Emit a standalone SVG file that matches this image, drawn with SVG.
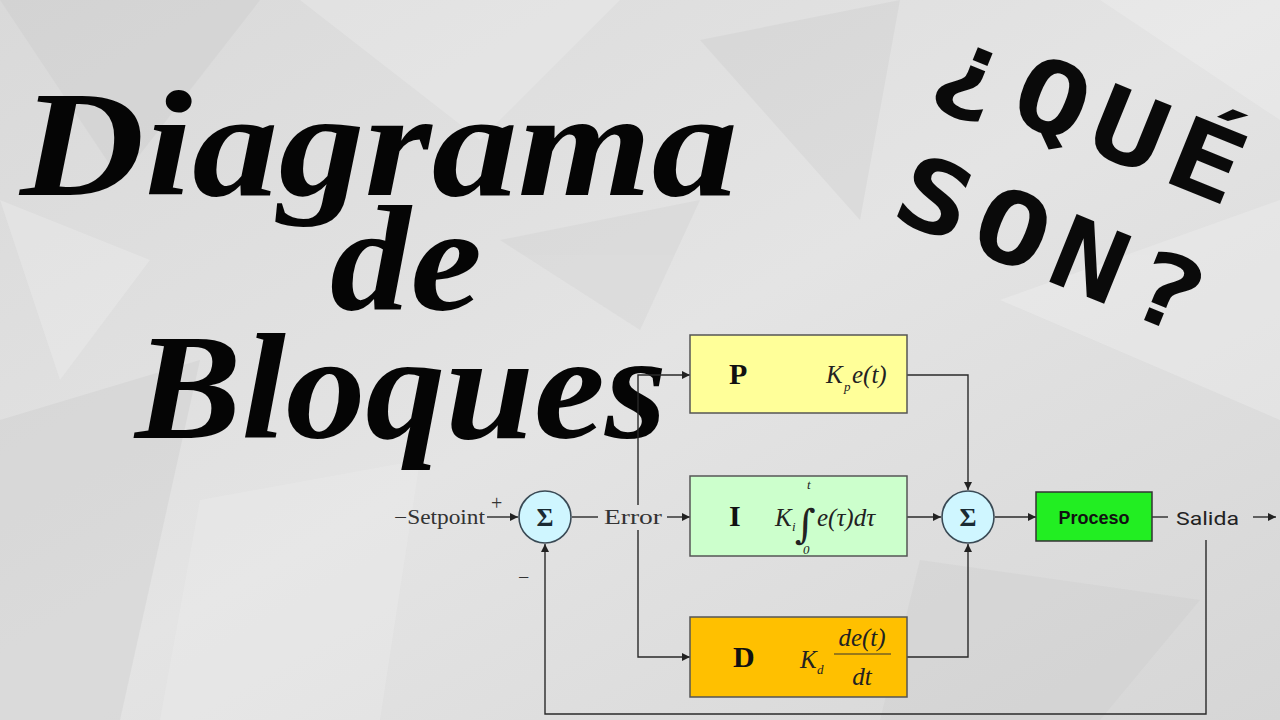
<svg xmlns="http://www.w3.org/2000/svg" width="1280" height="720" viewBox="0 0 1280 720">
<defs>
<marker id="arr" viewBox="0 0 10 10" refX="10" refY="5" markerWidth="8" markerHeight="8" orient="auto" markerUnits="userSpaceOnUse"><path d="M0,0 L10,5 L0,10 z" fill="#222"/></marker>
<linearGradient id="bg" x1="0" y1="0" x2="1" y2="1"><stop offset="0" stop-color="#d9d9d9"/><stop offset="0.5" stop-color="#e4e4e4"/><stop offset="1" stop-color="#d6d6d6"/></linearGradient>
<style>
.title{font-family:"Liberation Serif",serif;font-weight:bold;font-style:italic;fill:#050505}
.q{font-family:"DejaVu Sans Mono","Liberation Mono",monospace;font-weight:bold;font-size:100px;letter-spacing:8px;fill:#0a0a0a}
.w{stroke:#2a2a2a;stroke-width:1.4;fill:none}
.blk{stroke:#555;stroke-width:1.5}
.lbl{font-family:"Liberation Serif",serif;font-size:20px;fill:#333}
.bl{font-family:"Liberation Serif",serif;font-weight:bold;font-size:30px;fill:#111}
.m{font-family:"Liberation Serif",serif;font-style:italic;font-size:25px;fill:#222}
.s{font-family:"Liberation Serif",serif;font-style:italic;font-size:13px;fill:#222}
.sum{fill:#cff6ff;stroke:#3a4a55;stroke-width:1.6}
.sig{font-family:"Liberation Serif",serif;font-weight:bold;font-size:26px;fill:#1a2a33}
.sans{font-family:Roboto,"Liberation Sans",sans-serif;font-size:19px;fill:#222}
</style>
</defs>
<rect width="1280" height="720" fill="url(#bg)"/>
<g opacity="0.3">
<polygon points="0,0 260,0 120,180" fill="#c8c8c8"/>
<polygon points="300,0 620,0 480,140" fill="#f2f2f2"/>
<polygon points="700,40 900,0 860,220" fill="#c9c9c9"/>
<polygon points="1000,300 1280,200 1280,420" fill="#f4f4f4"/>
<polygon points="0,420 200,360 120,720 0,720" fill="#c6c6c6"/>
<polygon points="200,500 420,460 380,720 160,720" fill="#f0f0f0"/>
<polygon points="920,560 1200,600 1100,720 880,720" fill="#cacaca"/>
<polygon points="500,240 700,200 640,330" fill="#cccccc"/>
<polygon points="1100,0 1280,0 1280,120" fill="#f5f5f5"/>
<polygon points="0,200 150,260 60,380" fill="#f3f3f3"/>
</g>
<g id="title">
<text class="title" x="20" y="195" font-size="150" textLength="718" lengthAdjust="spacingAndGlyphs">Diagrama</text>
<text class="title" x="330" y="310" font-size="150" textLength="152" lengthAdjust="spacingAndGlyphs">de</text>
<text class="title" x="135" y="438" font-size="150" textLength="532" lengthAdjust="spacingAndGlyphs">Bloques</text>
</g>
<g id="question" transform="translate(928,86) rotate(22) scale(1.22,1)">
<text class="q" x="0" y="0">¿QUÉ</text>
<text class="q" x="10" y="136">SON?</text>
</g>
<g id="connectors">
<line class="w" x1="487" y1="517" x2="518" y2="517" marker-end="url(#arr)"/>
<line class="w" x1="572" y1="517" x2="598" y2="517"/>
<line class="w" x1="667" y1="517" x2="690" y2="517" marker-end="url(#arr)"/>
<polyline class="w" points="638,505 638,375 690,375" marker-end="url(#arr)"/>
<polyline class="w" points="638,530 638,657 690,657" marker-end="url(#arr)"/>
<polyline class="w" points="907,375 968,375 968,490" marker-end="url(#arr)"/>
<line class="w" x1="907" y1="517" x2="941" y2="517" marker-end="url(#arr)"/>
<polyline class="w" points="907,657 968,657 968,544" marker-end="url(#arr)"/>
<line class="w" x1="995" y1="517" x2="1036" y2="517" marker-end="url(#arr)"/>
<line class="w" x1="1152" y1="517" x2="1168" y2="517"/>
<line class="w" x1="1253" y1="517" x2="1276" y2="517" marker-end="url(#arr)"/>
<polyline class="w" points="1206,540 1206,714 545,714 545,544" marker-end="url(#arr)"/>
</g>
<g id="setpoint">
<text class="lbl" x="394" y="524" textLength="91" lengthAdjust="spacingAndGlyphs">−Setpoint</text>
<text class="lbl" x="491" y="510" font-size="16">+</text>
<text class="lbl" x="518" y="584">−</text>
</g>
<g id="sum1">
<circle class="sum" cx="545" cy="517" r="26"/>
<text class="sig" x="545" y="526" text-anchor="middle">Σ</text>
</g>
<g id="error"><text class="lbl" x="604" y="524" textLength="58" lengthAdjust="spacingAndGlyphs">Error</text></g>
<g id="P">
<rect class="blk" x="690" y="335" width="217" height="78" fill="#ffff99"/>
<text class="bl" x="729" y="384">P</text>
<text class="m" x="826" y="383">K</text><text class="s" x="844" y="391">p</text><text class="m" x="852" y="383">e(t)</text>
</g>
<g id="I">
<rect class="blk" x="690" y="476" width="217" height="80" fill="#ccffcc"/>
<text class="bl" x="729" y="526">I</text>
<text class="m" x="775" y="526">K</text><text class="s" x="792" y="531">i</text>
<text x="795" y="538" font-family="'DejaVu Serif','Liberation Serif',serif" font-size="40" fill="#222">∫</text>
<text class="s" x="807" y="489" font-size="11">t</text>
<text class="s" x="803" y="554" font-style="normal" font-size="12">0</text>
<text class="m" x="817" y="526">e(τ)dτ</text>
</g>
<g id="D">
<rect class="blk" x="690" y="617" width="217" height="80" fill="#ffc000"/>
<text class="bl" x="733" y="667">D</text>
<text class="m" x="800" y="668">K</text><text class="s" x="817" y="674">d</text>
<text class="m" x="862" y="646" text-anchor="middle">de(t)</text>
<line x1="834" y1="654" x2="891" y2="654" stroke="#333" stroke-width="1.2"/>
<text class="m" x="862" y="685" text-anchor="middle">dt</text>
</g>
<g id="sum2">
<circle class="sum" cx="968" cy="517" r="26"/>
<text class="sig" x="968" y="526" text-anchor="middle">Σ</text>
</g>
<g id="proceso">
<rect x="1036" y="492" width="116" height="49" fill="#22ee22" stroke="#333" stroke-width="1.5"/>
<text x="1094" y="524" text-anchor="middle" font-family="'Liberation Sans',Arial,sans-serif" font-weight="bold" font-size="18" fill="#111">Proceso</text>
</g>
<g id="salida"><text class="sans" x="1176" y="525" textLength="63" lengthAdjust="spacingAndGlyphs">Salida</text></g>
</svg>
